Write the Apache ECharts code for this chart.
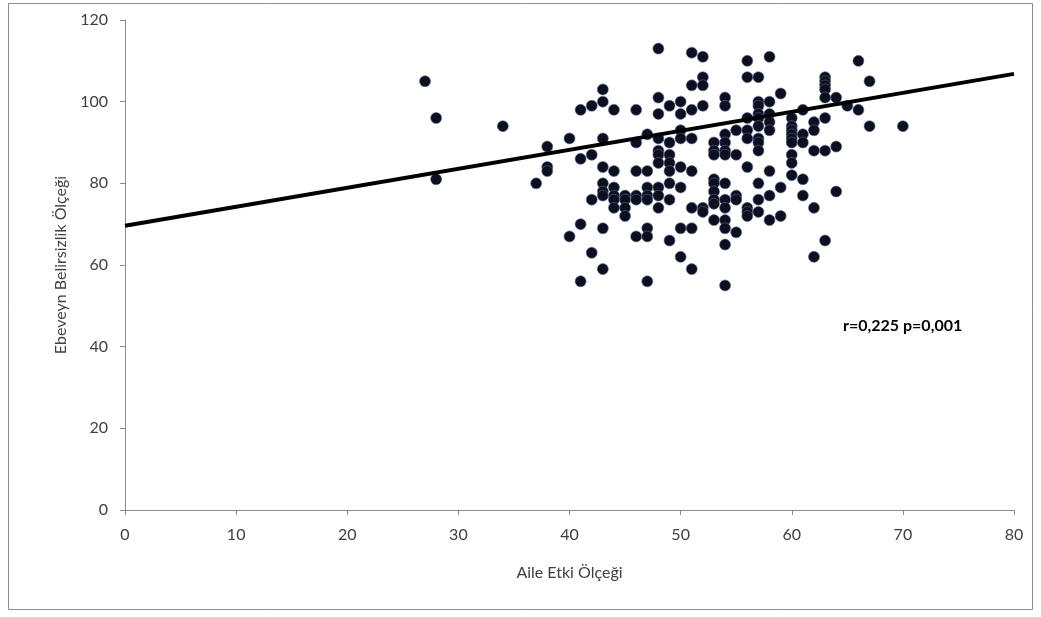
<!DOCTYPE html>
<html>
<head>
<meta charset="utf-8">
<script src="https://cdn.jsdelivr.net/npm/echarts@6/dist/echarts.min.js"></script>
<style>
html,body{margin:0;padding:0;background:#fff;}
#c{width:1041px;height:617px;}
</style>
</head>
<body>
<div id="c"></div>
<script>
// Aile Etki Ölçeği (x) values
const xs = [27,28,28,34,37,38,38,38,40,40,41,41,41,41,42,42,42,42,43,43,43,43,43,43,43,43,43,
44,44,44,44,44,44,45,45,45,45,46,46,46,46,46,46,47,47,47,47,47,47,47,47,
48,48,48,48,48,48,48,48,48,48,49,49,49,49,49,49,49,49,50,50,50,50,50,50,50,50,
51,51,51,51,51,51,51,51,52,52,52,52,52,52,53,53,53,53,53,53,53,53,53,
54,54,54,54,54,54,54,54,54,54,54,54,54,55,55,55,55,55,
56,56,56,56,56,56,56,56,56,57,57,57,57,57,57,57,57,57,57,57,57,
58,58,58,58,58,58,58,58,59,59,59,60,60,60,60,60,60,60,60,60,
61,61,61,61,61,62,62,62,62,62,63,63,63,63,63,63,63,63,64,64,64,65,66,66,67,67,70];
// Ebeveyn Belirsizlik Ölçeği (y) values
const ys = [105,96,81,94,80,89,84,83,91,67,98,86,70,56,99,87,76,63,103,100,91,84,80,78,77,69,59,
98,83,79,77,76,74,77,76,74,72,98,90,83,77,76,67,92,83,79,77,76,69,67,56,
113,101,97,91,88,87,85,79,77,74,99,90,87,85,83,80,76,66,100,97,93,91,84,79,69,62,
112,104,98,91,83,74,69,59,111,106,104,99,74,73,90,88,87,81,80,78,76,75,71,
101,99,92,90,88,87,80,76,74,71,69,65,55,93,87,77,76,68,
110,106,96,93,91,84,74,73,72,106,100,99,97,96,94,91,90,88,80,76,73,
111,100,97,95,93,83,77,71,102,79,72,96,94,93,92,91,90,87,85,82,
98,92,90,81,77,95,93,88,74,62,106,105,104,103,101,96,88,66,101,89,78,99,110,98,105,94,94];
// Regression line endpoints
const trendX = [0, 80];
const trendY = [69.6, 106.8];
const xTicks = [0,10,20,30,40,50,60,70,80];
const yTicks = [0,20,40,60,80,100,120];
const annotation = 'r=0,225 p=0,001';

const points = xs.map((x, i) => [x, ys[i]]);
const line = trendX.map((x, i) => [x, trendY[i]]);

const chart = echarts.init(document.getElementById('c'));
const font = 'Lato, "Open Sans", sans-serif';
chart.setOption({
  animation: false,
  backgroundColor: '#fff',
  grid: {left: 125, right: 27, top: 20, bottom: 107},
  xAxis: {
    type: 'value', min: xTicks[0], max: xTicks[xTicks.length-1], interval: 10,
    name: 'Aile Etki Ölçeği', nameLocation: 'middle', nameGap: 55,
    nameTextStyle: {fontFamily: font, fontSize: 16, color: '#404040'},
    axisLine: {show: true, lineStyle: {color: '#8a8a8a', width: 1}},
    axisTick: {show: true, length: 5, lineStyle: {color: '#8a8a8a'}},
    axisLabel: {fontFamily: font, fontSize: 16, color: '#404040', margin: 17},
    splitLine: {show: false}
  },
  yAxis: {
    type: 'value', min: yTicks[0], max: yTicks[yTicks.length-1], interval: 20,
    name: 'Ebeveyn Belirsizlik Ölçeği', nameLocation: 'middle', nameGap: 55, nameRotate: 90,
    nameTextStyle: {fontFamily: font, fontSize: 16, color: '#404040'},
    axisLine: {show: true, lineStyle: {color: '#8a8a8a', width: 1}},
    axisTick: {show: true, length: 5, lineStyle: {color: '#8a8a8a'}},
    axisLabel: {fontFamily: font, fontSize: 16, color: '#404040', margin: 17},
    splitLine: {show: false}
  },
  graphic: [
    {type: 'rect', shape: {x: 8.5, y: 3.5, width: 1024, height: 606},
     style: {fill: 'none', stroke: '#8c8c8c', lineWidth: 1}, silent: true, z: -1},
    {type: 'text', left: 843, top: 318,
     style: {text: annotation, fontFamily: font, fontSize: 16, fontWeight: 'bold', fill: '#000'}}
  ],
  series: [
    {type: 'line', data: line, symbol: 'none', lineStyle: {color: '#000', width: 4}, z: 3},
    {type: 'scatter', data: points, symbol: 'circle', symbolSize: 11,
     itemStyle: {color: '#0b0f1f', borderColor: '#5a6b8c', borderWidth: 0.6, opacity: 1}, z: 2}
  ]
});
</script>
</body>
</html>
